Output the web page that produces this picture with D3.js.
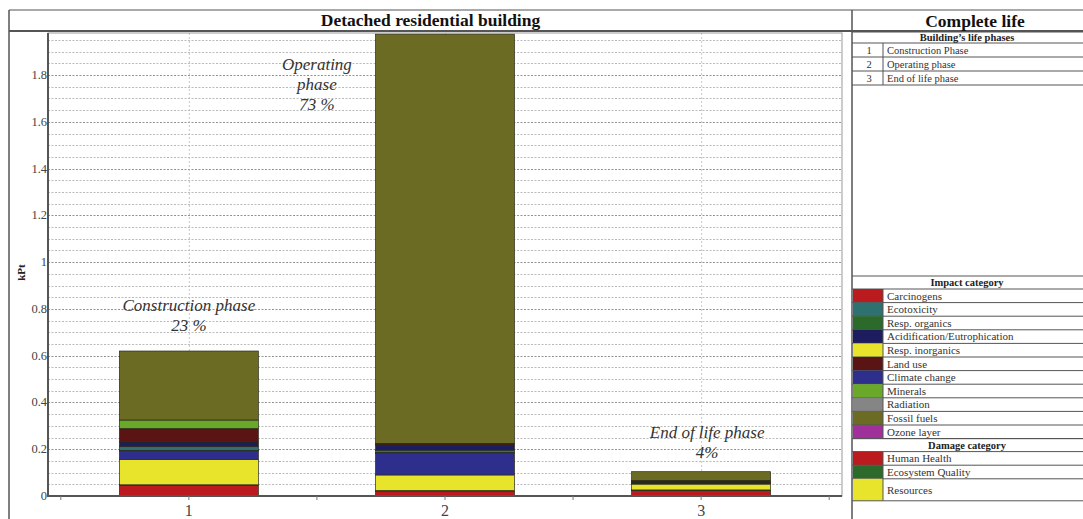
<!DOCTYPE html>
<html>
<head>
<meta charset="utf-8">
<script src="https://cdn.jsdelivr.net/npm/d3@7"></script>
<style>
  body { margin: 0; background: #fff; }
  svg { display: block; font-family: "Liberation Serif", "Times New Roman", serif; }
</style>
</head>
<body>
<div id="chart"></div>
<script>
// phases (x categories)
const phases = ["1", "2", "3"];
const phaseNames = ["Construction Phase", "Operating phase", "End of life phase"];
const phaseLabels = [["Construction phase", "23 %"], ["Operating", "phase", "73 %"], ["End of life phase", "4%"]];

// impact categories, legend order
const impactCategories = ["Carcinogens", "Ecotoxicity", "Resp. organics", "Acidification/Eutrophication",
  "Resp. inorganics", "Land use", "Climate change", "Minerals", "Radiation", "Fossil fuels", "Ozone layer"];
const impactColors = ["#bb1a1e", "#2f7070", "#2c6a2c", "#1c1c5e", "#e8e42c", "#5a1414",
  "#2e2e8c", "#6aa82a", "#858585", "#6b6b24", "#a0309a"];

// stacking order, bottom to top
const stackOrder = ["Carcinogens", "Resp. organics", "Resp. inorganics", "Climate change", "Radiation",
  "Ozone layer", "Ecotoxicity", "Acidification/Eutrophication", "Land use", "Minerals", "Fossil fuels"];

// kPt per phase (1, 2, 3)
const carcinogens = [0.045, 0.021, 0.024];
const respOrganics = [0.003, 0.002, 0.002];
const respInorganics = [0.108, 0.067, 0.025];
const climateChange = [0.036, 0.092, 0.004];
const radiation = [0.002, 0.002, 0.0005];
const ozoneLayer = [0.001, 0.002, 0.0005];
const ecotoxicity = [0.016, 0.010, 0.003];
const acidification = [0.020, 0.022, 0.004];
const landUse = [0.058, 0.005, 0.002];
const minerals = [0.036, 0.002, 0.001];
const fossilFuels = [0.295, 1.750, 0.038];

const damageCategories = ["Human Health", "Ecosystem Quality", "Resources"];
const damageColors = ["#bb1a1e", "#2c6a2c", "#e8e42c"];

const yTicks = [0, 0.2, 0.4, 0.6, 0.8, 1, 1.2, 1.4, 1.6, 1.8];

const seriesValues = {
  "Carcinogens": carcinogens, "Resp. organics": respOrganics, "Resp. inorganics": respInorganics,
  "Climate change": climateChange, "Radiation": radiation, "Ozone layer": ozoneLayer,
  "Ecotoxicity": ecotoxicity, "Acidification/Eutrophication": acidification, "Land use": landUse,
  "Minerals": minerals, "Fossil fuels": fossilFuels
};

const table = phases.map((p, i) => {
  const row = {phase: p};
  stackOrder.forEach(k => row[k] = seriesValues[k][i]);
  return row;
});
const color = d3.scaleOrdinal(impactCategories, impactColors);

const W = 1083, H = 519;
const svg = d3.select("#chart").append("svg").attr("width", W).attr("height", H);

// frame
const frameL = 9, frameT = 10, panelX = 852, titleB = 31;
const plot = {l: 48, r: 842, t: 33, b: 496};

const x = d3.scalePoint().domain(phases).range([plot.l, plot.r]).padding(0.55);
const y = d3.scaleLinear().domain([0, 1.98]).range([plot.b, plot.t]);
const bw = 139;

// grid
const grid = svg.append("g");
grid.selectAll("line.h").data(y.ticks(40).filter(d => d > 0))
  .join("line")
  .attr("x1", plot.l).attr("x2", plot.r)
  .attr("y1", d => Math.round(y(d)) + 0.5).attr("y2", d => Math.round(y(d)) + 0.5)
  .attr("stroke", d => yTicks.some(t => Math.abs(t - d) < 1e-6) ? "#777" : "#aaa")
  .attr("stroke-width", 0.8)
  .attr("stroke-dasharray", "2,1.5");
grid.selectAll("line.v").data(phases)
  .join("line")
  .attr("x1", d => x(d) + 0.5).attr("x2", d => x(d) + 0.5)
  .attr("y1", plot.t).attr("y2", plot.b)
  .attr("stroke", "#bbb").attr("stroke-width", 0.8).attr("stroke-dasharray", "2,2");

// plot box
svg.append("rect").attr("x", plot.l).attr("y", plot.t)
  .attr("width", plot.r - plot.l).attr("height", plot.b - plot.t)
  .attr("fill", "none").attr("stroke", "#999").attr("stroke-width", 1);

// bars
const stacked = d3.stack().keys(stackOrder)(table);
svg.append("g").selectAll("g").data(stacked).join("g")
  .attr("fill", d => color(d.key))
  .selectAll("rect").data(d => d).join("rect")
  .attr("x", d => x(d.data.phase) - bw / 2)
  .attr("width", bw)
  .attr("y", d => y(d[1]))
  .attr("height", d => Math.max(0, y(d[0]) - y(d[1])))
  .attr("stroke", "#2a2a1a").attr("stroke-width", 0.7);

// axes lines
svg.append("line").attr("x1", plot.l).attr("x2", plot.l).attr("y1", plot.t).attr("y2", plot.b + 1)
  .attr("stroke", "#555").attr("stroke-width", 2);
svg.append("line").attr("x1", plot.l).attr("x2", plot.r).attr("y1", plot.b).attr("y2", plot.b)
  .attr("stroke", "#555").attr("stroke-width", 2);

// y tick labels
svg.append("g").selectAll("text").data(yTicks).join("text")
  .attr("x", plot.l - 1).attr("y", d => y(d) + 4)
  .attr("text-anchor", "end").attr("font-size", 12.5).attr("fill", "#444")
  .text(d3.format("~g"));
svg.append("text").attr("transform", `translate(25,${(plot.t + plot.b) / 2 + 8}) rotate(-90)`)
  .attr("text-anchor", "middle").attr("font-size", 11).attr("font-weight", "bold").attr("fill", "#222")
  .text("kPt");

// x ticks (major at phases, minor between)
const step = x.step();
const xt = [];
phases.forEach(p => { xt.push(x(p) - step / 2, x(p)); });
xt.push(x(phases[phases.length - 1]) + step / 2);
svg.append("g").selectAll("line").data(xt).join("line")
  .attr("x1", d => d).attr("x2", d => d).attr("y1", plot.b).attr("y2", plot.b + 4)
  .attr("stroke", "#777").attr("stroke-width", 1);
svg.append("g").selectAll("text").data(phases).join("text")
  .attr("x", d => x(d)).attr("y", 516)
  .attr("text-anchor", "middle").attr("font-size", 16).attr("fill", "#444")
  .text(d => d);

// phase annotations
const annPos = [
  {cx: x("1"), v: 0.79},
  {cx: x("1") + step / 2, v: 1.82},
  {cx: x("3") + 6, v: 0.25}
];
phaseLabels.forEach((lines, i) => {
  const t = svg.append("text").attr("text-anchor", "middle").attr("font-size", 17)
    .attr("font-style", "italic").attr("fill", "#333");
  lines.forEach((s, j) => {
    t.append("tspan").attr("x", annPos[i].cx).attr("y", y(annPos[i].v) + j * 20).text(s);
  });
});

// outer frame
const fr = svg.append("g").attr("stroke", "#555").attr("fill", "none");
fr.append("line").attr("x1", frameL).attr("x2", W).attr("y1", frameT).attr("y2", frameT).attr("stroke-width", 1.2);
fr.append("line").attr("x1", frameL).attr("x2", frameL).attr("y1", frameT).attr("y2", H).attr("stroke-width", 1.5);
fr.append("line").attr("x1", frameL).attr("x2", W).attr("y1", titleB).attr("y2", titleB).attr("stroke-width", 2);
fr.append("line").attr("x1", panelX).attr("x2", panelX).attr("y1", frameT).attr("y2", H).attr("stroke-width", 1.5);

svg.append("text").attr("x", (frameL + panelX) / 2).attr("y", 26)
  .attr("text-anchor", "middle").attr("font-size", 17.5).attr("font-weight", "bold").attr("fill", "#111")
  .text("Detached residential building");
svg.append("text").attr("x", 975).attr("y", 27)
  .attr("text-anchor", "middle").attr("font-size", 17.5).attr("font-weight", "bold").attr("fill", "#111")
  .text("Complete life");

// right panel tables
const colX = 883;
function hline(yy, w) {
  svg.append("line").attr("x1", panelX).attr("x2", W).attr("y1", yy).attr("y2", yy)
    .attr("stroke", "#555").attr("stroke-width", w || 1);
}
function header(y0, y1, txt) {
  hline(y0); hline(y1);
  svg.append("text").attr("x", 967).attr("y", (y0 + y1) / 2 + 3.5)
    .attr("text-anchor", "middle").attr("font-size", 10.5).attr("font-weight", "bold").attr("fill", "#222")
    .text(txt);
}

// building's life phases
header(titleB + 1, 43, "Building\u2019s life phases");
const rowH = 14;
phases.forEach((p, i) => {
  const y0 = 43 + i * rowH;
  hline(y0 + rowH);
  svg.append("text").attr("x", 869).attr("y", y0 + rowH / 2 + 3.5).attr("text-anchor", "middle")
    .attr("font-size", 10.5).attr("fill", "#333").text(p);
  svg.append("text").attr("x", colX + 4).attr("y", y0 + rowH / 2 + 3.5)
    .attr("font-size", 10.5).attr("fill", "#333").text(phaseNames[i]);
});
svg.append("line").attr("x1", colX).attr("x2", colX).attr("y1", 43).attr("y2", 43 + phases.length * rowH)
  .attr("stroke", "#555");

// impact category legend
const legT = 276, lh = 13.6;
header(legT, legT + 13, "Impact category");
function legendRows(names, colors, y0, heights) {
  let yy = y0;
  names.forEach((n, i) => {
    const h = heights ? heights[i] : lh;
    svg.append("rect").attr("x", panelX + 1).attr("y", yy).attr("width", colX - panelX - 1).attr("height", h)
      .attr("fill", colors[i]);
    hline(yy + h);
    svg.append("text").attr("x", colX + 4).attr("y", yy + h / 2 + 3.8)
      .attr("font-size", 11).attr("fill", "#333").text(n);
    yy += h;
  });
  svg.append("line").attr("x1", colX).attr("x2", colX).attr("y1", y0).attr("y2", yy).attr("stroke", "#555");
  return yy;
}
let yEnd = legendRows(impactCategories, impactColors, legT + 13);
header(yEnd, yEnd + 13, "Damage category");
legendRows(damageCategories, damageColors, yEnd + 13, [lh, lh, 22]);
</script>
</body>
</html>
